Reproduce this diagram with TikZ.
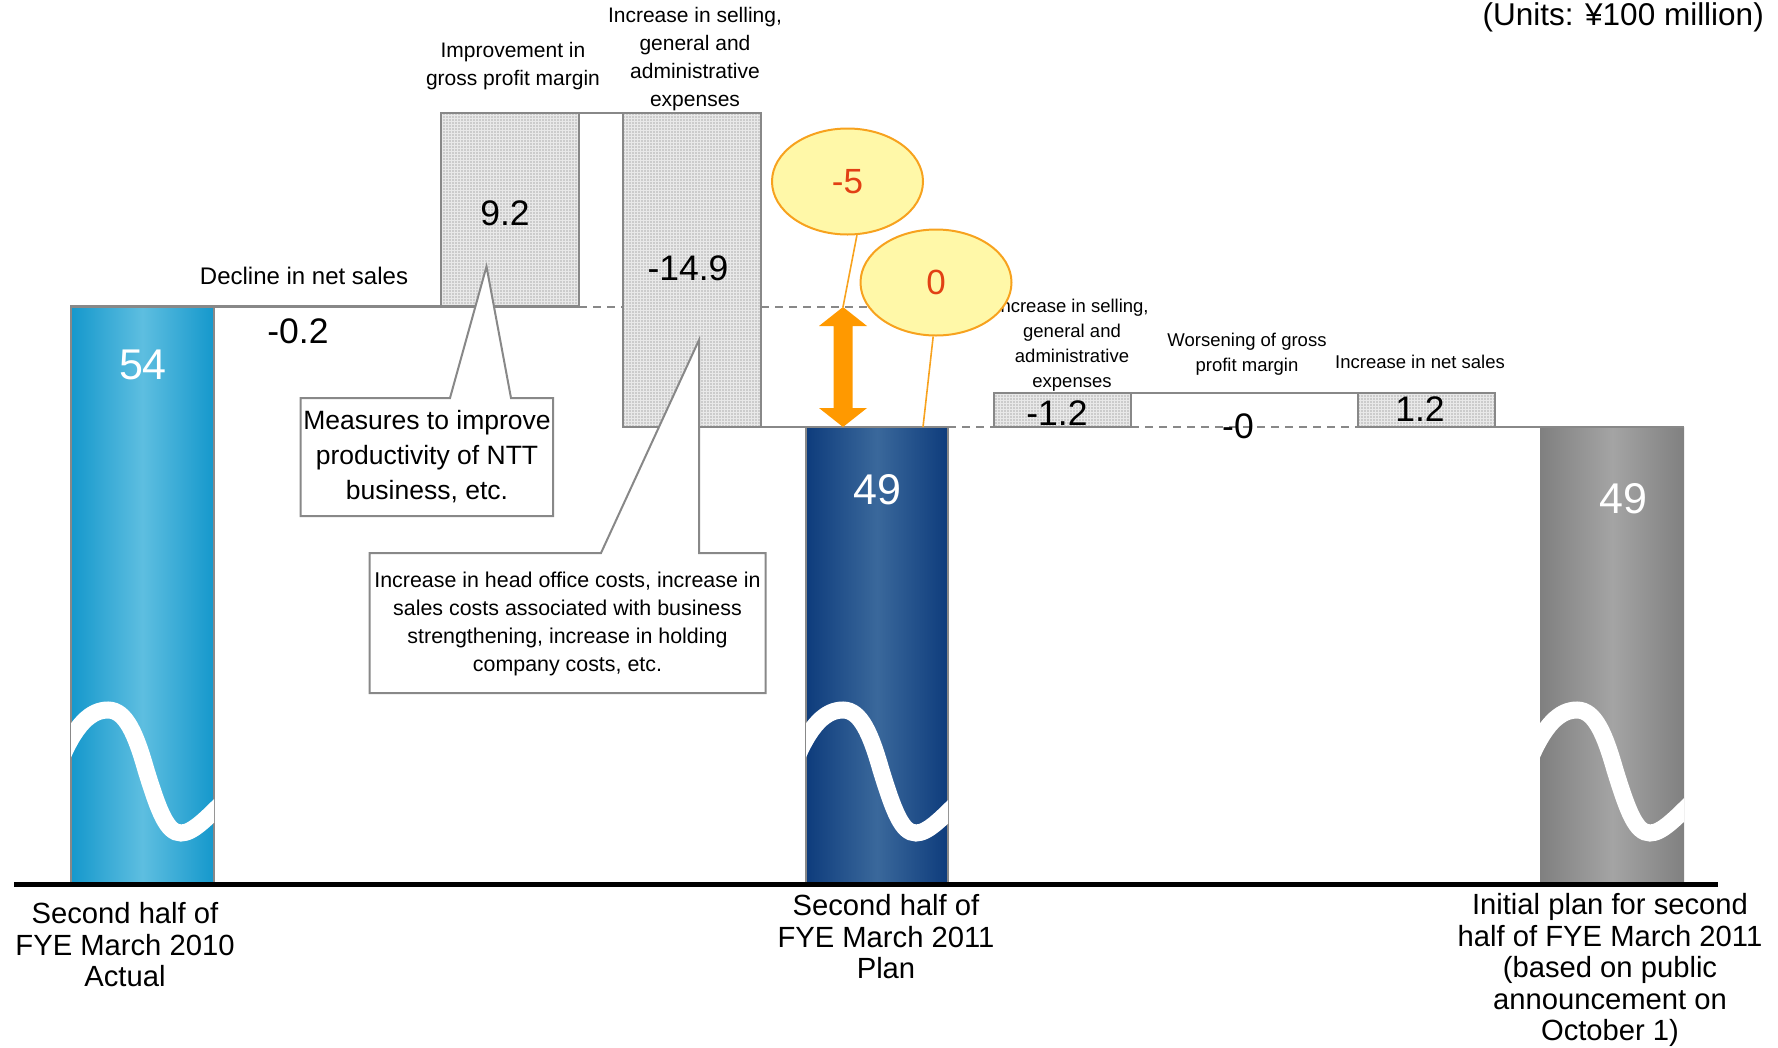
\documentclass[tikz,border=0pt]{standalone}
\usepackage{fontspec}
\setmainfont{Liberation Sans}
\usetikzlibrary{shapes.geometric,patterns,calc}

% fine dot screen used for the change boxes
\pgfdeclarepatternformonly{screendots}{\pgfqpoint{-1pt}{-1pt}}{\pgfqpoint{1pt}{1pt}}{\pgfqpoint{3pt}{3pt}}{%
  \pgfpathcircle{\pgfqpoint{0pt}{0pt}}{0.85pt}\pgfusepath{fill}}

\definecolor{lvl}{HTML}{888888}
\definecolor{cyanA}{RGB}{21,152,204}
\definecolor{cyanB}{RGB}{94,190,224}
\definecolor{navyA}{RGB}{14,60,124}
\definecolor{navyB}{RGB}{58,104,155}
\definecolor{greyA}{RGB}{128,128,128}
\definecolor{greyB}{RGB}{164,164,164}
\definecolor{balloonfill}{RGB}{255,248,168}
\definecolor{balloonline}{RGB}{247,162,30}
\definecolor{balloontext}{RGB}{226,64,20}
\definecolor{arroworange}{RGB}{255,153,0}

\tikzset{
  level/.style={draw=lvl, line width=2.5pt},
  dashlevel/.style={draw=lvl, line width=2pt, dash pattern=on 8pt off 6pt},
  deltabox/.style={draw=lvl, line width=2.7pt, preaction={fill=gray!17},
                   pattern=screendots, pattern color=gray!62},
  barframe/.style={draw=lvl, line width=1.5pt},
  wave/.style={draw=white, line width=17pt},
  callout/.style={fill=white, draw=lvl, line width=2pt, line join=miter},
  value/.style={font=\fontsize{35.5}{42}\selectfont, inner sep=0pt},
  barvalue/.style={font=\fontsize{43}{50}\selectfont, text=white, inner sep=0pt},
  toplabel/.style={font=\fontsize{21}{28}\selectfont, align=center, inner sep=0pt},
  smalllabel/.style={font=\fontsize{18.5}{25}\selectfont, align=center, inner sep=0pt},
  axislabel/.style={font=\fontsize{29.2}{31.5}\selectfont, align=center, inner sep=0pt},
  balloon/.style={ellipse, fill=balloonfill, draw=balloonline, line width=2pt,
                  text=balloontext, font=\fontsize{35}{42}\selectfont,
                  minimum width=151pt, minimum height=106pt, inner sep=0pt},
  leader/.style={draw=balloonline, line width=1.6pt},
}

\begin{document}
\begin{tikzpicture}[x=1pt,y=-1pt]
\useasboundingbox (0,0) rectangle (1778,1047);

% ---- totals (bars) ----
\shade[left color=cyanA, right color=cyanA, middle color=cyanB] (71,306) rectangle (214,884);
\draw[barframe] (71,884) -- (71,306) -- (214,306) -- (214,884);
\shade[left color=navyA, right color=navyA, middle color=navyB] (806,427) rectangle (948,884);
\draw[barframe] (806,884) -- (806,427) -- (948,427) -- (948,884);
\shade[left color=greyA, right color=greyA, middle color=greyB] (1540,427) rectangle (1684,884);

% ---- break marks on the bars ----
\foreach \xl/\w/\top in {71/143/306, 806/142/427, 1540/144/427}{
  \begin{scope}[shift={(\xl,0)}]
    \clip (0,\top) rectangle (\w,884);
    \draw[wave] (-12,764) .. controls (4,724) and (20,710) .. (37,710)
                .. controls (55,710) and (65,735) .. (75,770)
                .. controls (88,812) and (96,833) .. (110,833)
                .. controls (122,833) and (136,818) .. (158,796);
  \end{scope}
}

% ---- axis ----
\draw[black, line width=4.5pt] (14,884.5) -- (1718,884.5);

% ---- level lines ----
\draw[level] (71,306.5) -- (441,306.5);
\draw[level] (579,113) -- (623,113);
\draw[dashlevel] (579,306.5) -- (623,306.5);
\draw[dashlevel] (761,306.5) -- (872,306.5);
\draw[level] (761,427) -- (806,427);
\draw[dashlevel] (948,427) -- (994,427);
\draw[level] (1131,393) -- (1358,393);
\draw[dashlevel] (1131,427) -- (1358,427);
\draw[level] (1495,427) -- (1684,427);

% ---- change boxes ----
\path[deltabox] (441,113) rectangle (579,306.5);
\path[deltabox] (623,113) rectangle (761,427);
\path[deltabox] (994,393) rectangle (1131,427);
\path[deltabox] (1358,393) rectangle (1495,427);

% ---- explanatory callouts ----
\path[callout] (300.5,398) -- (450,398) -- (486.5,266.5) -- (511,398) -- (553,398)
      -- (553,516) -- (300.5,516) -- cycle;
\path[callout] (369.5,553) -- (601,553) -- (699,340) -- (699,553) -- (765.5,553)
      -- (765.5,693) -- (369.5,693) -- cycle;

\node[font=\fontsize{26.5}{35}\selectfont, align=center, inner sep=0pt] (c1) at (427,457)
  {Measures to improve\\productivity of NTT\\business, etc.};
\node[font=\fontsize{21.4}{28}\selectfont, align=center, inner sep=0pt] (c2) at (567.5,624)
  {Increase in head office costs, increase in\\sales costs associated with business\\strengthening, increase in holding\\company costs, etc.};

% ---- labels ----
\node[font=\fontsize{31.5}{36}\selectfont, anchor=east, inner sep=0pt] (units) at (1764,17)
  {(Units: ¥100 million)};
\node[font=\fontsize{24}{28}\selectfont, inner sep=0pt] (l1) at (304,276) {Decline in net sales};
\node[toplabel] (l2) at (513,66) {Improvement in\\gross profit margin};
\node[toplabel] (l3) at (695,59) {Increase in selling,\\general and\\administrative\\expenses};
\node[smalllabel] (l4) at (1072,345) {Increase in selling,\\general and\\administrative\\expenses};
\node[smalllabel] (l5) at (1247,354.5) {Worsening of gross\\profit margin};
\node[smalllabel] (l6) at (1420,362) {Increase in net sales};

% ---- values ----
\node[barvalue] (v54) at (143,365) {54};
\node[value] (vdec) at (298,331) {-0.2};
\node[value] (vgp) at (505,213) {9.2};
\node[value] (vsga) at (688,268) {-14.9};
\node[barvalue] (v49a) at (877,490) {49};
\node[value] (vsga2) at (1057,413) {-1.2};
\node[value] (vgp2) at (1238,426) {-0};
\node[value] (vns) at (1420,409) {1.2};
\node[barvalue] (v49b) at (1623,499) {49};

% ---- category labels ----
\node[axislabel] (x1) at (125,945) {Second half of\\FYE March 2010\\Actual};
\node[axislabel] (x2) at (886,937) {Second half of\\FYE March 2011\\Plan};
\node[axislabel] (x3) at (1610,970) {Initial plan for second\\half of FYE March 2011\\(based on public\\announcement on\\October 1)};

% ---- difference arrow and balloons ----
\coordinate (arrowtop) at (843,307);
\coordinate (plantop) at (923,427);
\fill[arroworange] (843,307) -- (867,326) -- (852.5,326) -- (852.5,408) -- (867,408)
  -- (843,427) -- (819,408) -- (833.5,408) -- (833.5,326) -- (819,326) -- cycle;

\node[balloon] (e5) at (847.5,181.5) {-5};
\node[balloon] (e0) at (936,282.5) {0};
\draw[leader] (e5.-80) -- (arrowtop);
\draw[leader] (e0.-93) -- (plantop);
\end{tikzpicture}
\end{document}
